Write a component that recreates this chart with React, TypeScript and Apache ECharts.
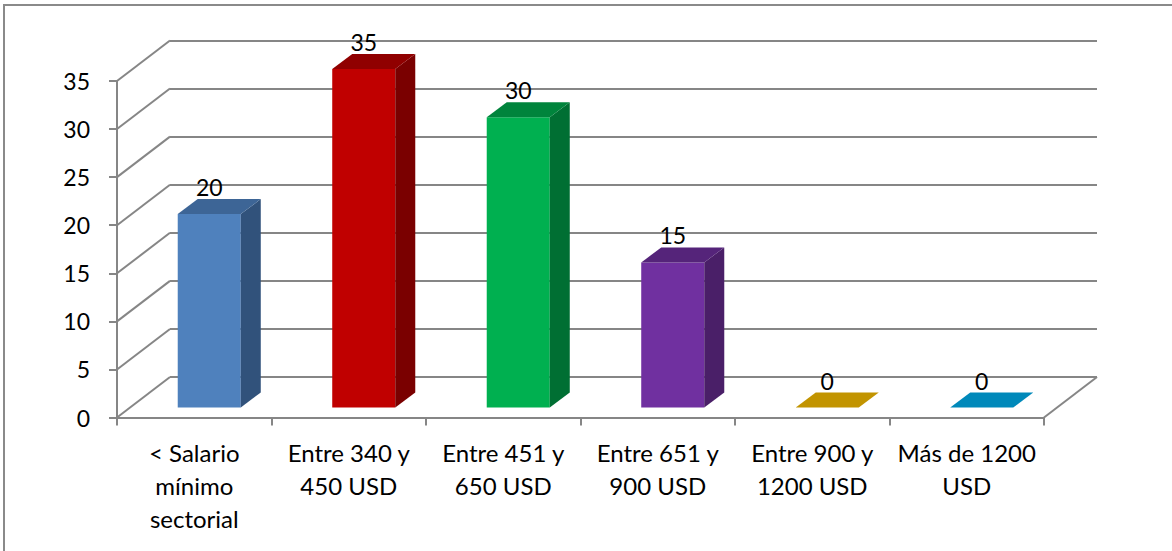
import React, { useEffect, useRef } from "react";
import * as echarts from "echarts";

const categories = [
  "< Salario\nmínimo\nsectorial",
  "Entre 340 y\n450 USD",
  "Entre 451 y\n650 USD",
  "Entre 651 y\n900 USD",
  "Entre 900 y\n1200 USD",
  "Más de 1200\nUSD",
];
const values = [20, 35, 30, 15, 0, 0];
const frontColors = ["#4F81BD", "#C00000", "#00B050", "#7030A0", "#C29400", "#0089BA"];
const topColors = ["#3D6596", "#900000", "#00843C", "#55247A", "#C29400", "#0089BA"];
const sideColors = ["#31527B", "#7A0000", "#006F33", "#4A1F68", "#A07A00", "#006F99"];
const yTicks = [0, 5, 10, 15, 20, 25, 30, 35];

const FONT = "Lato, 'Open Sans', sans-serif";
const GRID_COLOR = "#868686";
const DEPTH_X = 53;
const DEPTH_Y = -40.5;

export default function App() {
  const ref = useRef<HTMLDivElement>(null);
  useEffect(() => {
    if (!ref.current) return;
    const chart = echarts.init(ref.current, null, { renderer: "svg" });
    const option: any = {
      animation: false,
      backgroundColor: "#fff",
      textStyle: { fontFamily: FONT },
      graphic: [
        {
          type: "rect",
          shape: { x: 4, y: 5, width: 1300, height: 700 },
          style: { fill: "none", stroke: "#8A8A8A", lineWidth: 2 },
          silent: true,
          z: -10,
        },
      ],
      grid: [
        { left: 117, top: 81, width: 927, height: 336.5 },
        { left: 117 + DEPTH_X, top: 81 + DEPTH_Y, width: 927, height: 336.5 },
      ],
      xAxis: [
        {
          type: "category",
          gridIndex: 0,
          data: categories,
          axisLine: { show: true, lineStyle: { color: GRID_COLOR, width: 2 } },
          axisTick: { show: true, length: 8, lineStyle: { color: GRID_COLOR, width: 2 } },
          axisLabel: {
            color: "#000",
            fontSize: 24,
            lineHeight: 33,
            margin: 18,
            interval: 0,
            fontFamily: FONT,
          },
        },
        {
          type: "category",
          gridIndex: 1,
          data: categories,
          show: false,
        },
      ],
      yAxis: [
        {
          type: "value",
          gridIndex: 0,
          min: 0,
          max: 35,
          interval: 5,
          axisLine: { show: true, lineStyle: { color: GRID_COLOR, width: 2 } },
          axisTick: { show: true, length: 8, lineStyle: { color: GRID_COLOR, width: 2 } },
          axisLabel: { color: "#000", fontSize: 23, margin: 27, fontFamily: FONT },
          splitLine: { show: false },
        },
        {
          type: "value",
          gridIndex: 1,
          min: 0,
          max: 35,
          interval: 5,
          axisLine: { show: false },
          axisTick: { show: false },
          axisLabel: { show: false },
          splitLine: { show: true, lineStyle: { color: GRID_COLOR, width: 2 } },
        },
      ],
      series: [
        {
          type: "custom",
          xAxisIndex: 0,
          yAxisIndex: 0,
          data: yTicks.map((t) => [0, t]),
          silent: true,
          z: 1,
          renderItem: (params: any, api: any) => {
            const v = api.value(1);
            const cs = params.coordSys;
            const y = api.coord([0, v])[1];
            const children: any[] = [
              {
                type: "line",
                shape: { x1: cs.x, y1: y, x2: cs.x + DEPTH_X, y2: y + DEPTH_Y },
                style: { stroke: GRID_COLOR, lineWidth: 2 },
              },
            ];
            if (v === 0) {
              children.push({
                type: "line",
                shape: {
                  x1: cs.x + cs.width,
                  y1: y,
                  x2: cs.x + cs.width + DEPTH_X,
                  y2: y + DEPTH_Y,
                },
                style: { stroke: GRID_COLOR, lineWidth: 2 },
              });
            }
            return { type: "group", children };
          },
        },
        {
          type: "custom",
          xAxisIndex: 0,
          yAxisIndex: 0,
          data: values.map((v, i) => [i, v]),
          z: 5,
          renderItem: (params: any, api: any) => {
            const i = api.value(0);
            const v = api.value(1);
            const base = api.coord([i, 0]);
            const topPt = api.coord([i, v]);
            const band = api.size([1, 0])[0];
            const w = band * 0.408;
            const cx = base[0] + 15;
            const x0 = cx - w / 2;
            const x1 = cx + w / 2;
            const yb = base[1] - 10;
            const h = (base[1] - topPt[1]) * 1.006;
            const yt = yb - h;
            const dx = 20;
            const dy = -15;
            const children: any[] = [];
            if (h > 0.5) {
              children.push({
                type: "polygon",
                shape: { points: [[x0, yb], [x1, yb], [x1, yt], [x0, yt]] },
                style: { fill: frontColors[i] },
              });
              children.push({
                type: "polygon",
                shape: { points: [[x1, yb], [x1 + dx, yb + dy], [x1 + dx, yt + dy], [x1, yt]] },
                style: { fill: sideColors[i] },
              });
            }
            children.push({
              type: "polygon",
              shape: { points: [[x0, yt], [x1, yt], [x1 + dx, yt + dy], [x0 + dx, yt + dy]] },
              style: { fill: topColors[i] },
            });
            children.push({
              type: "text",
              x: cx,
              y: yt + dy - 12,
              style: {
                text: String(v),
                fill: "#000",
                font: `23px ${FONT}`,
                textAlign: "center",
                textVerticalAlign: "middle",
                align: "center",
                verticalAlign: "middle",
              },
            });
            return { type: "group", children };
          },
        },
      ],
    };
    chart.setOption(option);
    return () => chart.dispose();
  }, []);
  return (
    <div
      ref={ref}
      style={{ position: "fixed", left: 0, top: 0, width: 1172, height: 551 }}
    />
  );
}
